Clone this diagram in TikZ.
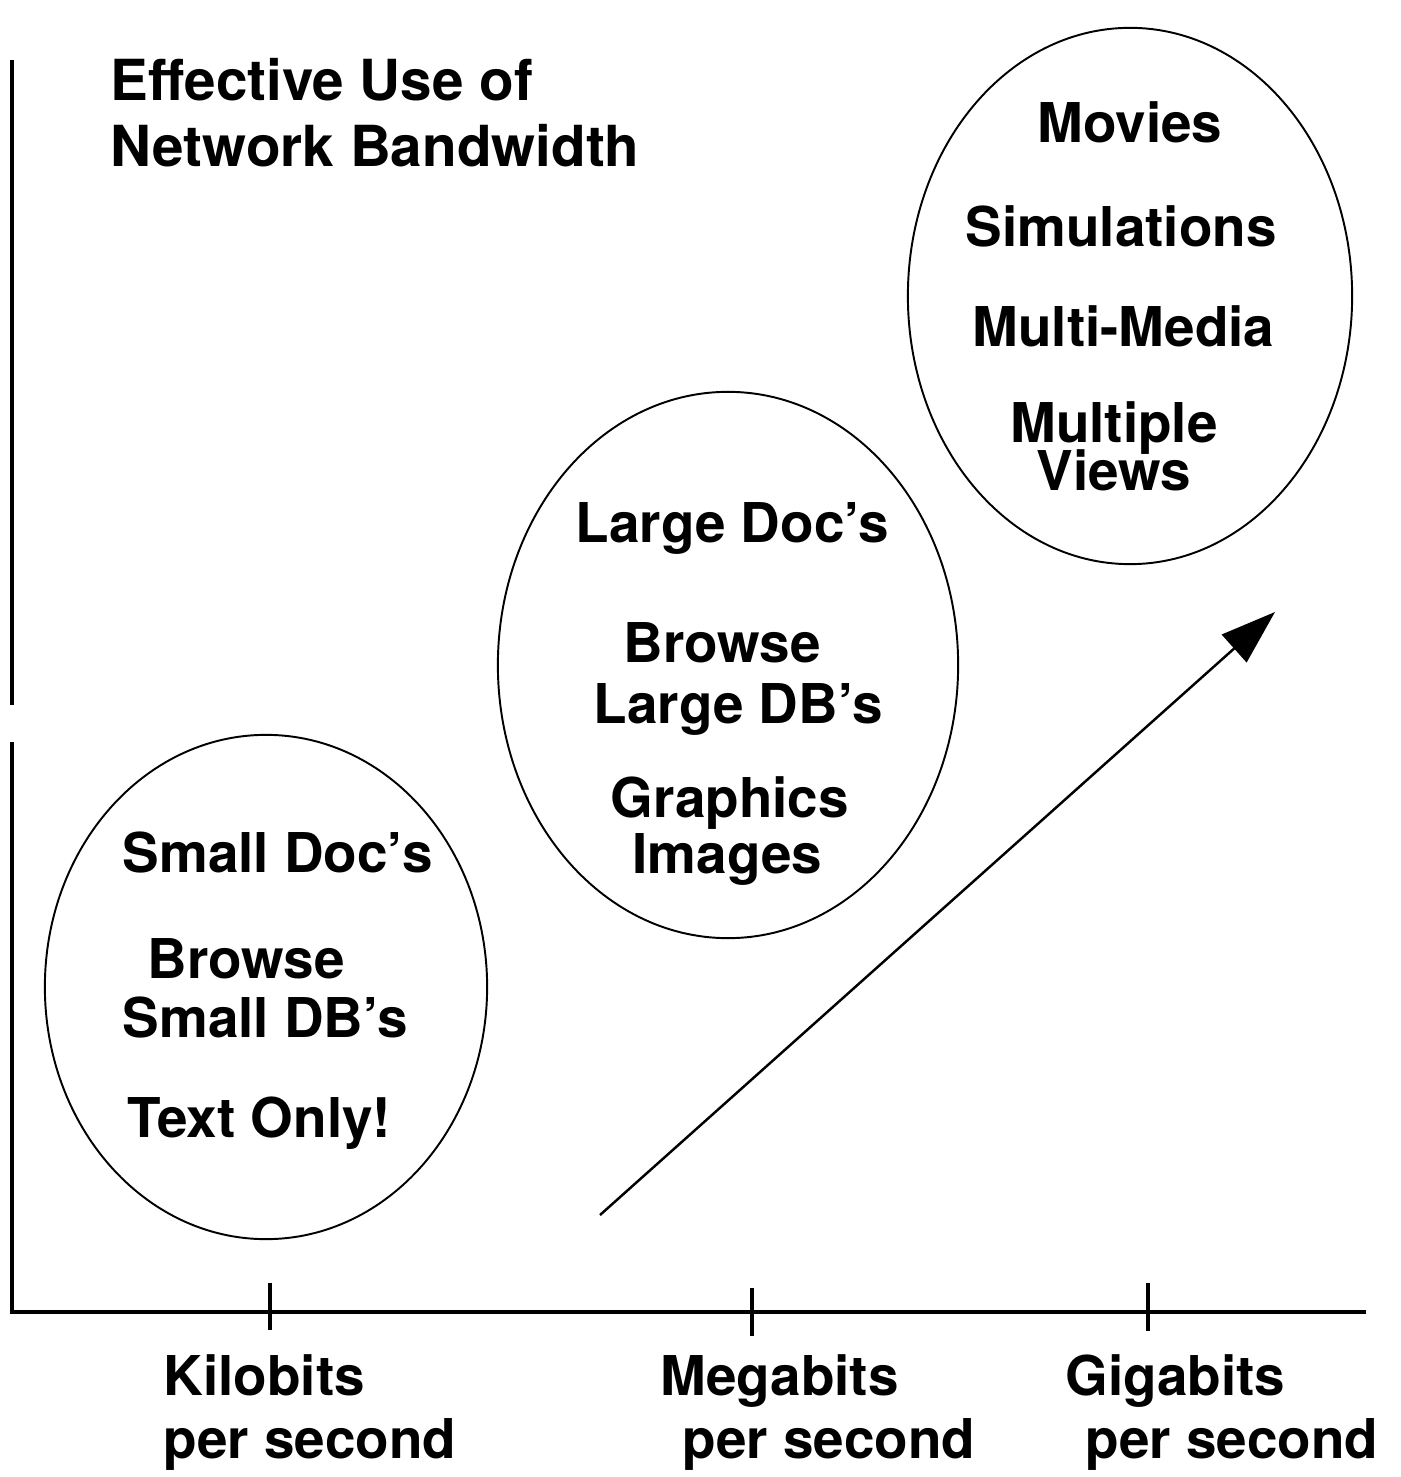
\documentclass[tikz,border=0pt]{standalone}
\usepackage{fontspec}
\setmainfont{TeX Gyre Heros}
\usetikzlibrary{arrows.meta}
\tikzstyle{topic}=[font=\fontsize{15.6}{18}\selectfont\bfseries,anchor=base west,inner sep=0pt]
\tikzstyle{heading}=[topic,font=\fontsize{16.1}{18}\selectfont\bfseries]
\tikzstyle{pair}=[topic,align=center,anchor=base]
\tikzstyle{axis}=[line width=0.9pt]
\tikzstyle{blob}=[line width=0.55pt]
\tikzstyle{growth}=[line width=0.7pt,-{Triangle[length=15.6pt,width=10.5pt]}]

\begin{document}
\begin{tikzpicture}[x=0.01cm, y=-0.01cm]
    \useasboundingbox (0,0) rectangle (1400,1477);
    % axes
    \draw[axis] (12,60) -- (12,705);
    \draw[axis] (12,742) -- (12,1312) -- (1366,1312);
    \foreach \x/\a/\b in {270/1283/1330, 752/1288/1336, 1148/1283/1331} {
        \draw[axis] (\x,\a) -- (\x,\b);
    };
    % title
    \node[heading] (title1) at (110,101) {Effective Use of};
    \node[heading] (title2) at (110,167) {Network Bandwidth};
    % bandwidth classes
    \draw[blob] (266,987) ellipse [x radius=2.21cm, y radius=2.52cm];
    \draw[blob] (728,665) ellipse [x radius=2.30cm, y radius=2.73cm];
    \draw[blob] (1130,296) ellipse [x radius=2.22cm, y radius=2.68cm];
    \foreach \n/\x/\y/\t in {smalldoc/122/872/Small Doc's, smallbrowse/147/978/Browse,
        smalldb/122/1037/Small DB's, textonly/127/1137/Text Only!} {
        \node[topic] (\n) at (\x,\y) {\t};
    };
    \foreach \n/\x/\y/\t in {largedoc/575/543/Large Doc's, largebrowse/623/663/Browse,
        largedb/593/723/Large DB's, graphics/610/817/Graphics, images/632/873/Images} {
        \node[topic] (\n) at (\x,\y) {\t};
    };
    \foreach \n/\x/\y/\t in {movies/1037/143/Movies, simulations/965/247/Simulations,
        multimedia/972/347/Multi-Media} {
        \node[topic] (\n) at (\x,\y) {\t};
    };
    \node[pair] (views) at (1114,491) {Multiple\\[-4.2pt]Views};
    % rates
    \foreach \n/\x/\px/\t in {kilo/163/163/Kilobits, mega/660/682/Megabits, giga/1065/1085/Gigabits} {
        \node[topic] (\n) at (\x,1395) {\t};
        \node[topic] (\n per) at (\px,1458) {per second};
    };
    \coordinate (low) at (600,1215);
    \coordinate (high) at (1275,612);
    \draw[growth] (low) -- (high);
\end{tikzpicture}
\end{document}
